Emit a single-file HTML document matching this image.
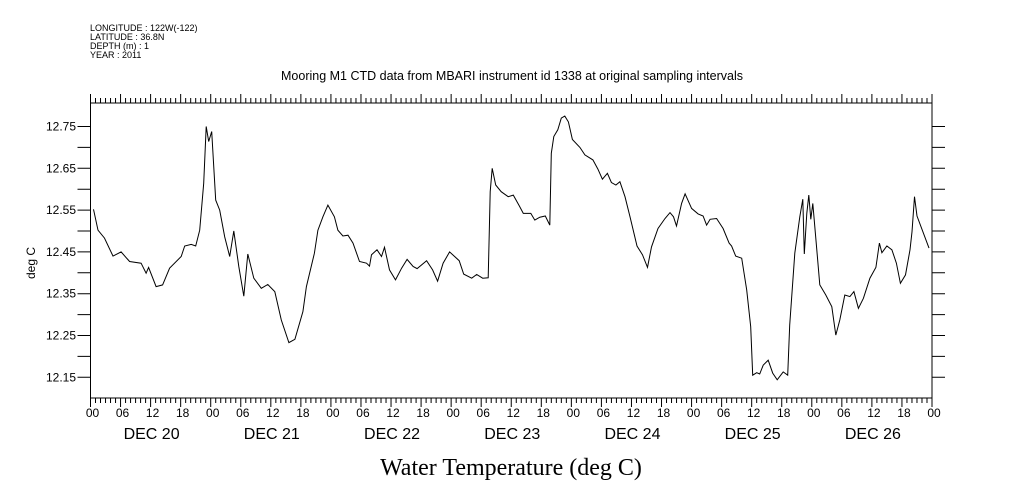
<!DOCTYPE html>
<html><head><meta charset="utf-8"><style>
body{margin:0;background:#fff;}
svg{display:block;}
text{font-family:"Liberation Sans",sans-serif;fill:#000;}
</style></head><body>
<svg id="chart" width="1009" height="504" xmlns="http://www.w3.org/2000/svg">
<g font-size="9">
<text x="90" y="31">LONGITUDE : 122W(-122)</text>
<text x="90" y="40">LATITUDE : 36.8N</text>
<text x="90" y="49">DEPTH (m) : 1</text>
<text x="90" y="58">YEAR : 2011</text>
</g>
<text x="512" y="80" text-anchor="middle" font-size="12.5">Mooring M1 CTD data from MBARI instrument id 1338 at original sampling intervals</text>
<text transform="translate(35,263) rotate(-90)" text-anchor="middle" font-size="12">deg C</text>
<text x="511" y="475" text-anchor="middle" font-size="24" style="font-family:'Liberation Serif',serif">Water Temperature (deg C)</text>
<g id="axes"></g>
<g id="plot"></g>
</svg>
<script>
const hours=[0.6,1.5,2.8,4.5,6.1,7.8,10.1,11.1,11.6,13.1,14.4,15.8,18.1,18.8,20.1,21,21.8,22.6,23.1,23.6,24.2,25,25.8,26.8,27.8,28.6,29.6,30.6,31.4,32.6,34.1,35.4,36.8,38.1,39.6,40.8,42.4,43.1,44.7,45.4,46.4,47.4,48.7,49.4,50.4,51.4,52.4,53.7,55.1,55.7,56.1,57.2,58.1,58.7,59.7,60.9,62.1,63.2,64.4,65.2,67.1,68.3,69.3,70.4,71.7,73.6,74.5,76.1,77.1,78.3,79.4,79.6,79.8,80.2,80.9,82,83.4,84.4,85.6,86.4,87.9,88.7,89.7,90.8,91.7,92.0,92.5,93.3,94.0,94.7,95.4,96.2,97.7,98.7,100.3,101.3,102.2,103.2,104.0,104.9,105.7,106.7,107.7,109.1,110.2,111.2,112.0,113.3,114.7,115.7,116.4,117.0,118.0,118.7,120.0,121.3,122.3,123.0,123.7,125.0,126.3,127.5,128.0,128.8,130.0,131.0,131.8,132.2,133.0,133.6,134.3,135.3,136.2,137.1,138.3,139.2,139.6,140.6,141.6,142.2,142.5,143.0,143.4,143.8,144.2,145.0,145.6,146.8,148.0,148.8,149.6,150.6,151.6,152.4,153.3,154.3,155.6,156.8,157.5,158.0,159.0,160.0,160.9,161.7,162.7,163.6,164.0,164.5,165.0,167.4];
const temps=[12.552,12.502,12.483,12.440,12.450,12.427,12.423,12.399,12.413,12.367,12.371,12.411,12.439,12.464,12.468,12.464,12.502,12.614,12.750,12.714,12.738,12.574,12.550,12.486,12.439,12.500,12.415,12.344,12.445,12.387,12.363,12.372,12.355,12.287,12.233,12.241,12.307,12.367,12.447,12.502,12.534,12.562,12.534,12.502,12.488,12.490,12.471,12.427,12.423,12.416,12.443,12.455,12.439,12.461,12.407,12.383,12.411,12.432,12.415,12.410,12.429,12.407,12.380,12.423,12.450,12.429,12.397,12.387,12.396,12.387,12.388,12.490,12.594,12.650,12.610,12.594,12.582,12.586,12.560,12.542,12.542,12.526,12.533,12.536,12.514,12.686,12.726,12.742,12.770,12.775,12.761,12.719,12.700,12.682,12.670,12.648,12.624,12.638,12.616,12.610,12.618,12.582,12.534,12.464,12.443,12.413,12.462,12.506,12.530,12.544,12.534,12.512,12.566,12.589,12.554,12.541,12.536,12.514,12.528,12.530,12.506,12.471,12.464,12.440,12.435,12.359,12.271,12.155,12.161,12.158,12.179,12.191,12.160,12.144,12.163,12.155,12.275,12.447,12.534,12.576,12.445,12.542,12.586,12.528,12.566,12.455,12.371,12.347,12.319,12.251,12.287,12.347,12.343,12.355,12.315,12.339,12.387,12.413,12.471,12.448,12.464,12.455,12.423,12.375,12.395,12.455,12.498,12.582,12.536,12.459];
const yTickLabels=["12.75","12.65","12.55","12.45","12.35","12.25","12.15"];
const hourLabels=["00","06","12","18"];
const dayLabels=["DEC 20","DEC 21","DEC 22","DEC 23","DEC 24","DEC 25","DEC 26"];

const L=90.5,R=932,T=103,B=398;
const x=h=>L+(R-L)*h/168;
const y=v=>377.3-(v-12.15)*418;
const NS="http://www.w3.org/2000/svg";
const axes=document.getElementById('axes'),plot=document.getElementById('plot');
function mk(tag,attrs,parent){const e=document.createElementNS(NS,tag);for(const k in attrs)e.setAttribute(k,attrs[k]);parent.appendChild(e);return e;}
let frame=mk('rect',{x:L,y:T,width:R-L,height:B-T,fill:'none',stroke:'#000','stroke-width':1},axes);


let d='';
for(let h=0;h<=168;h++){const len=h%6==0?9:5;const X=x(h);d+=`M${X} ${B}v${len}M${X} ${T}v${-len}`;}
for(let i=0;i<=12;i++){const Y=y(12.15+i*0.05);d+=`M${L} ${Y}h-13M${R} ${Y}h13`;}
let ticks=mk('path',{d:d,stroke:'#000','stroke-width':1,fill:'none'},axes);


yTickLabels.forEach(s=>{const t=mk('text',{x:76,y:y(parseFloat(s))+4,'text-anchor':'end','font-size':12},axes);t.textContent=s;

});
for(let h=0;h<=168;h+=6){const t=mk('text',{x:x(h)+2,y:417,'text-anchor':'middle','font-size':12},axes);t.textContent=hourLabels[(h/6)%4];

}
dayLabels.forEach((s,i)=>{const t=mk('text',{x:x(i*24+12)+1,y:439,'text-anchor':'middle','font-size':16},axes);t.textContent=s;

});
const line=mk('polyline',{points:hours.map((h,i)=>x(h).toFixed(1)+','+y(temps[i]).toFixed(1)).join(' '),fill:'none',stroke:'#000','stroke-width':1},plot);


</script>
</body></html>
